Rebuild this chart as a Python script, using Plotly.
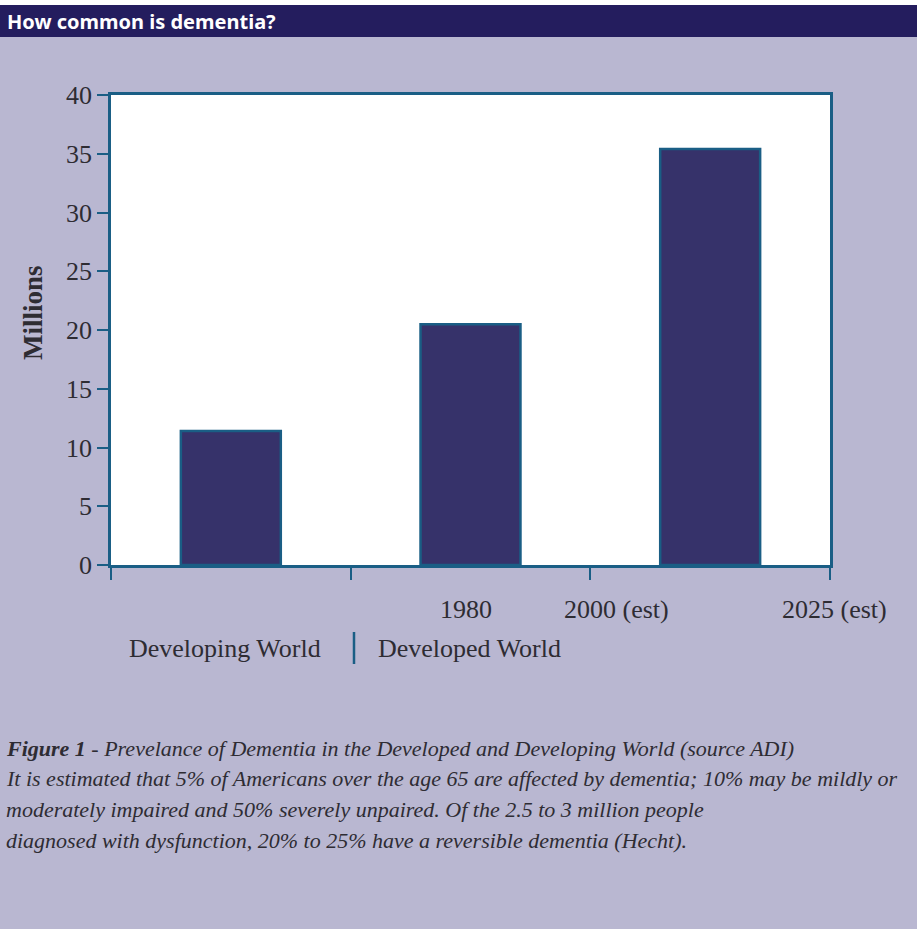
import plotly.graph_objects as go

# ---- data ----
bar_positions = [0.5, 1.5, 2.5]
values = [11.4, 20.5, 35.4]
category_labels = ["1980", "2000 (est)", "2025 (est)"]
category_label_pos = [1.48, 2.11, 3.02]
group_labels = ["Developing World", "Developed World"]
y_ticks = [0, 5, 10, 15, 20, 25, 30, 35, 40]
x_ticks = [0, 1, 2, 3]
y_title = "Millions"
title_text = "How common is dementia?"
caption_lines = [
    "<b>Figure 1</b> - Prevelance of Dementia in the Developed and Developing World (source ADI)",
    "It is estimated that 5% of Americans over the age 65 are affected by dementia; 10% may be mildly or",
    "moderately impaired and 50% severely unpaired. Of the 2.5 to 3 million people",
    "diagnosed with dysfunction, 20% to 25% have a reversible dementia (Hecht).",
]

W, H = 917, 929
L, R, T, B = 111, 830, 95, 565
AX = "#1a5e85"
BG = "#b9b7d1"
TXT = "#2e2c33"
SERIF = "Liberation Serif"


def px(x):
    return (x - L) / (R - L)


def py(y):
    return (B - y) / (B - T)


fig = go.Figure()
fig.add_trace(go.Bar(
    x=bar_positions, y=values, width=0.417,
    marker=dict(color="#36326a", line=dict(color=AX, width=2.5)),
    hoverinfo="skip",
))

fig.update_layout(
    width=W, height=H,
    margin=dict(l=L, r=W - R, t=T, b=H - B),
    paper_bgcolor=BG, plot_bgcolor="white",
    showlegend=False,
    font=dict(family=SERIF, size=26, color=TXT),
    xaxis=dict(range=[0, 3], tickvals=x_ticks, ticktext=["", "", "", ""],
               ticks="outside", ticklen=12, tickwidth=2, tickcolor=AX,
               showline=True, linecolor=AX, linewidth=2.5, mirror=True,
               showgrid=False, zeroline=False, fixedrange=True),
    yaxis=dict(range=[0, 40], tickvals=y_ticks, ticks="outside", ticklen=11,
               tickwidth=2, tickcolor=AX, showline=True, linecolor=AX,
               linewidth=2.5, mirror=True, showgrid=False, zeroline=False,
               tickfont=dict(family=SERIF, size=26, color=TXT),
               fixedrange=True),
)

shapes = []
# header bar
shapes.append(dict(type="rect", xref="paper", yref="paper",
                   x0=px(0), x1=px(W), y0=py(37), y1=py(5),
                   fillcolor="#241d5e", line=dict(width=0), layer="below"))
shapes.append(dict(type="rect", xref="paper", yref="paper",
                   x0=px(0), x1=px(W), y0=py(5), y1=py(0),
                   fillcolor="white", line=dict(width=0), layer="below"))
# divider between groups
shapes.append(dict(type="line", xref="paper", yref="paper",
                   x0=px(354), x1=px(354), y0=py(664), y1=py(632),
                   line=dict(color=AX, width=2.5)))
fig.update_layout(shapes=shapes)

ann = []
ann.append(dict(text="<b>" + title_text + "</b>", xref="paper", yref="paper",
                x=px(5), y=py(21), xanchor="left", yanchor="middle", showarrow=False,
                font=dict(family="Noto Sans", size=20, color="white")))
ann.append(dict(text="<b>" + y_title + "</b>", xref="paper", yref="paper",
                x=px(33), y=py(313), xanchor="center", yanchor="middle",
                showarrow=False, textangle=-90,
                font=dict(family=SERIF, size=27, color=TXT)))
for lab, pos in zip(category_labels, category_label_pos):
    ann.append(dict(text=lab, xref="paper", yref="paper", x=pos / 3, y=py(609),
                    xanchor="center", yanchor="middle", showarrow=False,
                    font=dict(family=SERIF, size=26, color=TXT)))
ann.append(dict(text=group_labels[0], xref="paper", yref="paper", x=px(323), y=py(648),
                xanchor="right", yanchor="middle", showarrow=False,
                font=dict(family=SERIF, size=26, color=TXT)))
ann.append(dict(text=group_labels[1], xref="paper", yref="paper", x=px(376), y=py(648),
                xanchor="left", yanchor="middle", showarrow=False,
                font=dict(family=SERIF, size=26, color=TXT)))
for i, line in enumerate(caption_lines):
    ann.append(dict(text="<i>" + line + "</i>", xref="paper", yref="paper",
                    x=px(4), y=py(748 + 30.7 * i), xanchor="left", yanchor="middle",
                    showarrow=False, align="left",
                    font=dict(family=SERIF, size=22, color=TXT)))
fig.update_layout(annotations=ann)

fig.write_html("out.html")
